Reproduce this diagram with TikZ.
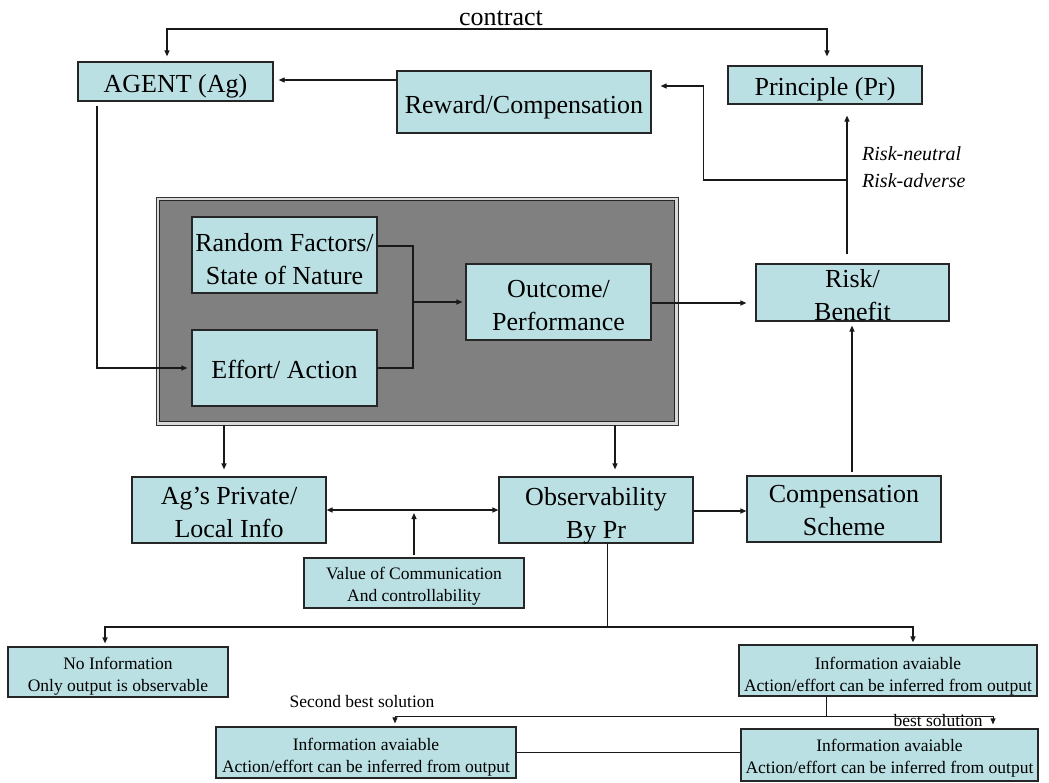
\documentclass[tikz,border=0pt]{standalone}
\usepackage{fontspec}
\setmainfont{Liberation Serif}
\usetikzlibrary{arrows.meta,calc}

\definecolor{boxfill}{RGB}{187,224,227}
\definecolor{panelgray}{RGB}{128,128,128}

\newcommand\largetxt{\fontsize{26}{33}\selectfont}
\newcommand\smalltxt{\fontsize{17.5}{22}\selectfont}
\newcommand\risktxt{\fontsize{20}{27}\selectfont\itshape}

\tikzset{
  box/.style={draw=black!85, line width=1.2pt, fill=boxfill, inner sep=0pt, anchor=center},
  boxtext/.style={inner sep=0pt, align=center, anchor=center},
  conn/.style={line width=1.2pt, black!90},
  thinconn/.style={line width=0.9pt, black!90},
  arr/.style={conn, -{Triangle[length=6pt,width=5pt]}},
  thinarr/.style={thinconn, -{Triangle[length=6pt,width=5pt]}},
  dblarr/.style={conn, {Triangle[length=6pt,width=5pt]}-{Triangle[length=6pt,width=5pt]}},
}

% #1 font, #2 name, #3 centre, #4 width, #5 height, #6 text drop, #7 text
\newcommand\labelbox[7]{%
  \node[box, minimum width=#4, minimum height=#5] (#2) at #3 {};
  \node[boxtext, font=#1] (#2-text) at ([yshift=-#6pt]#2.center) {#7};
}

\begin{document}
\begin{tikzpicture}[x=1pt, y=-1pt]
  \fill[white] (0,0) rectangle (1049,782);
  \useasboundingbox (0,0) rectangle (1049,782);

  % top row
  \node[font=\largetxt] (contract) at (501,18.5) {contract};
  \labelbox{\largetxt}{agent}{(175.5,81.5)}{195}{39}{4.5}{AGENT (Ag)}
  \labelbox{\largetxt}{princ}{(825,85)}{194}{38}{4}{Principle (Pr)}
  \labelbox{\largetxt}{reward}{(524,102)}{254}{62}{5}{Reward/Compensation}

  % dark panel holding the agent's side of the process
  \node[draw=black!80, line width=0.8pt, fill=black!15, minimum width=522, minimum height=228,
        inner sep=0pt] (blackbox) at (417,311) {};
  \draw[fill=panelgray, line width=1.2pt, draw=black!85]
    ($(blackbox.south west)+(4,-4)$) rectangle ($(blackbox.north east)+(-4,4)$);

  \labelbox{\largetxt}{random}{(284.5,255)}{185}{76}{4}{Random Factors/\\State of Nature}
  \labelbox{\largetxt}{effort}{(284.5,368)}{185}{76}{1}{Effort/ Action}
  \labelbox{\largetxt}{outcome}{(558.5,302)}{185}{76}{3.5}{Outcome/\\Performance}
  \labelbox{\largetxt}{risk}{(852.5,292.5)}{193}{57}{2.5}{Risk/\\Benefit}

  \node[font=\risktxt, align=left, anchor=west, inner sep=0pt] (risklbl) at (862,167.5)
    {Risk-neutral\\Risk-adverse};

  % middle row
  \labelbox{\largetxt}{agpriv}{(229,510)}{194}{66}{2}{Ag’s Private/\\Local Info}
  \labelbox{\largetxt}{obs}{(596,510)}{194}{66}{5.5}{Observability\\By Pr}
  \labelbox{\largetxt}{comp}{(844,509)}{194}{66}{2}{Compensation\\Scheme}
  \labelbox{\smalltxt}{value}{(414,583)}{220}{50}{3}{Value of Communication\\And controllability}

  % information cases
  \labelbox{\smalltxt}{noinfo}{(118,672)}{220}{50}{4}{No Information\\Only output is observable}
  \labelbox{\smalltxt}{info1}{(888,670.5)}{298}{51}{5.5}{Information avaiable\\Action/effort can be inferred from output}
  \labelbox{\smalltxt}{info2}{(366,752.5)}{300}{51}{5}{Information avaiable\\Action/effort can be inferred from output}
  \labelbox{\smalltxt}{info3}{(889.5,755)}{297}{52}{3}{Information avaiable\\Action/effort can be inferred from output}

  \node[font=\smalltxt] (secondlbl) at (362,702) {Second best solution};
  \node[font=\smalltxt] (bestlbl) at (938,720.5) {best solution};

  % junction points
  \coordinate (cline) at (500,29);
  \coordinate (rb) at (847,180);
  \coordinate (jn) at (413,302);
  \coordinate (split1) at (607,627);
  \coordinate (split2) at (826,716);

  % contract between agent and principal
  \draw[dblarr] ([xshift=-8.5pt,yshift=5pt]agent.north) |- (cline) -| ([xshift=2pt,yshift=9pt]princ.north);

  % reward flow
  \draw[arr, shorten >=5pt] ([yshift=22pt]reward.west) -- ([yshift=22pt]reward.west -| agent.east);
  \draw[arr, shorten >=11pt] ([xshift=-5.5pt,yshift=9pt]risk.north) -- ([xshift=-5.5pt]risk.north |- princ.south);
  \draw[arr, shorten >=9pt] (rb) -| ([xshift=52pt,yshift=16pt]reward.east) -- ([yshift=16pt]reward.east);

  % inside the panel
  \draw[conn] ([yshift=9pt]random.east) -| (jn) |- (effort.east);
  \draw[arr, shorten >=3pt] (jn) -- (jn -| outcome.west);
  \draw[arr, shorten >=9pt] ([yshift=-1pt]outcome.east) -- ([yshift=-1pt]outcome.east -| risk.west);

  % agent drives the effort
  \draw[arr, shorten >=4pt] ([xshift=-78.5pt,yshift=-4pt]agent.south) |- (effort.west);

  % observation
  \draw[arr, shorten >=7pt] ([xshift=-5pt]agpriv.north |- blackbox.south) -- ([xshift=-5pt]agpriv.north);
  \draw[arr, shorten >=7pt] ([xshift=19pt]obs.north |- blackbox.south) -- ([xshift=19pt]obs.north);
  \draw[dblarr] (agpriv.east) -- (agpriv.east -| obs.west);
  \draw[arr, shorten >=3pt] ([yshift=2pt]value.north) -- (value.north |- agpriv.east);
  \draw[arr] ([yshift=-1pt]obs.east) -- ([yshift=-1pt]obs.east -| comp.west);
  \draw[arr, shorten >=4pt] ([xshift=8pt,yshift=3pt]comp.north) -- ([xshift=8pt]comp.north |- risk.south);

  % cases of observability
  \draw[thinconn] ([xshift=11pt]obs.south) -- (split1);
  \draw[arr, shorten >=3pt] (split1) -| ([xshift=-13pt]noinfo.north);
  \draw[arr, shorten >=2pt] (split1) -| ([xshift=25pt]info1.north);

  \draw[thinconn] ([xshift=-62pt]info1.south) -- (split2);
  \draw[thinarr, shorten >=3pt] (split2) -| ([xshift=29pt]info2.north);
  \draw[thinarr, shorten >=4pt] (split2) -| ([xshift=103.5pt]info3.north);
  \draw[thinconn] (info2.east) -- (info2.east -| info3.west);
\end{tikzpicture}
\end{document}
